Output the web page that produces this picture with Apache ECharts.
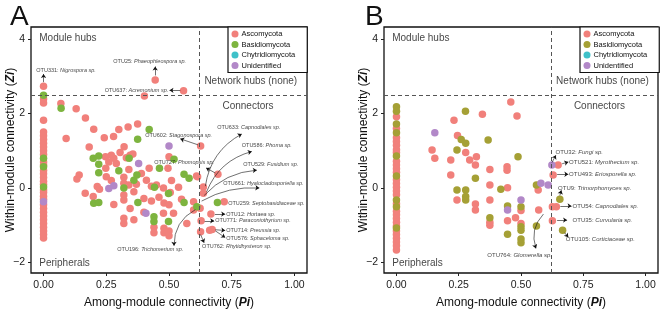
<!DOCTYPE html>
<html>
<head>
<meta charset="utf-8">
<script src="https://cdn.jsdelivr.net/npm/echarts@6/dist/echarts.min.js"></script>
<style>
  html, body { margin: 0; padding: 0; background: #fff; }
  #main { width: 660px; height: 310px; }
</style>
</head>
<body>
<div id="main"></div>
<script>
var FONT = 'Liberation Sans, Arial, sans-serif';

var phyla = ['Ascomycota', 'Basidiomycota', 'Chytridiomycota', 'Unidentified'];
var xTicks = [0, 0.25, 0.5, 0.75, 1];
var yTicks = [-2, 0, 2, 4];
var piCut = 0.62, ziCut = 2.5;

var cAsco = '#F1807B', cBasA = '#7DB43F', cBasB = '#A5A035', cChy = '#3FC1C9', cUnid = '#B288C8';

// ---- panel A ----
var aAscoCol = [2.73, 2.39, 2.28, 1.82, 1.50, 1.40, 1.30, 1.20, 1.10, 1.00, 0.90, 0.70, 0.62, 0.47, 0.38, 0.28, 0.18, 0.10,
  -0.05, -0.12, -0.22, -0.30, -0.45, -0.55, -0.65, -0.75, -0.85, -0.95, -1.05, -1.15, -1.25, -1.34];
var aBasCol = [2.49, 0.80, 0.57, 0.03];
var aUnidCol = [-0.37];
var aAsco = [[0.445,2.90],[0.558,2.61],[0.402,2.47],[0.069,2.27],[0.13,2.13],[0.167,1.88],[0.09,1.33],[0.20,1.58],
  [0.242,1.35],[0.279,1.38],[0.30,1.57],[0.337,1.64],[0.375,1.72],[0.182,1.10],[0.321,1.11],[0.356,0.91],[0.626,1.13],
  [0.50,0.84],[0.247,0.84],[0.27,0.88],[0.28,0.80],[0.29,0.66],[0.248,0.53],[0.33,0.81],[0.345,0.88],[0.142,0.35],
  [0.133,0.24],[0.32,0.29],[0.32,0.13],[0.34,0.08],[0.214,0.04],[0.166,-0.14],[0.198,-0.23],[0.28,-0.44],[0.32,-0.19],
  [0.32,-0.32],[0.32,-0.81],[0.32,-0.95],[0.345,-0.55],[0.421,0.53],[0.496,0.53],[0.41,0.21],[0.61,0.32],[0.695,0.37],
  [0.478,0.0],[0.505,-0.12],[0.538,0.02],[0.40,-0.28],[0.43,-0.35],[0.46,-0.25],[0.48,-0.40],[0.50,-0.45],[0.478,-0.68],
  [0.518,-0.68],[0.48,-1.08],[0.48,-1.2],[0.50,-1.15],[0.50,-1.28],[0.44,-1.05],[0.44,-1.2],[0.571,-0.95],[0.598,-0.59],
  [0.614,0.30],[0.637,0.03],[0.637,-0.14],[0.598,-0.37],[0.624,-0.54],[0.72,-0.37],[0.667,-0.70],[0.628,-0.88],
  [0.662,-1.13],[0.672,-1.11],[0.626,-1.17],[0.39,0.39],[0.37,0.10],[0.43,0.05],[0.36,-0.10],[0.27,0.20],[0.25,0.30],
  [0.55,-0.30],[0.40,-0.65],[0.36,-0.85],[0.223,-0.03],[0.34,0.5],[0.305,0.95],[0.26,0.7],[0.51,0.2],[0.45,0.08]];
var aBas = [[0.07,2.14],[0.421,1.57],[0.375,1.31],[0.52,0.77],[0.22,0.86],[0.198,0.80],[0.341,0.80],[0.22,0.64],
  [0.22,0.41],[0.30,0.46],[0.32,0.0],[0.20,-0.41],[0.22,-0.39],[0.462,0.53],[0.56,0.37],[0.58,0.26],[0.36,0.21],
  [0.372,0.35],[0.442,0.02],[0.376,-0.39],[0.56,-0.39],[0.611,-0.5],[0.44,-0.77],[0.44,-0.9],[0.498,-0.9],[0.693,-0.39],
  [0.498,-0.15]];
var aUnid = [[0.50,1.13],[0.379,0.66],[0.26,-0.01],[0.28,0.06],[0.408,-0.68]];

// [Pi, Zi, OTU, taxon, side]
var aNotes = [
  [-0.029, 3.16, 'OTU331', 'Nigrospora sp.'],
  [0.278, 3.40, 'OTU25', 'Phaeophleospora sp.'],
  [0.497, 2.62, 'OTU637', 'Acremonium sp.', 'left'],
  [0.405, 1.42, 'OTU602', 'Stagonospora sp.'],
  [0.441, 0.68, 'OTU727', 'Phomopsis sp.'],
  [0.692, 1.62, 'OTU633', 'Capnodiales sp.'],
  [0.79, 1.13, 'OTU586', 'Phoma sp.'],
  [0.796, 0.62, 'OTU529', 'Fusidium sp.'],
  [0.716, 0.11, 'OTU661', 'Hyalocladosporiella sp.'],
  [0.736, -0.41, 'OTU259', 'Septobasidiaceae sp.'],
  [0.728, -0.70, 'OTU12', 'Hortaea sp.'],
  [0.684, -0.88, 'OTU771', 'Paraconiothyrium sp.'],
  [0.728, -1.13, 'OTU714', 'Preussia sp.'],
  [0.728, -1.35, 'OTU576', 'Sphaceloma sp.'],
  [0.632, -1.57, 'OTU762', 'Rhytidhysteron sp.'],
  [0.294, -1.64, 'OTU196', 'Trichomerium sp.']
];
// [x1, y1, x2, y2, curveness]
var aArrows = [
  [0, 2.84, 0, 3.06, 0], [0.445, 3.02, 0.445, 3.26, 0], [0.545, 2.62, 0.502, 2.62, 0],
  [0.615, 1.16, 0.545, 1.32, 0], [0.685, 0.40, 0.648, 0.54, 0],
  [0.645, 0.05, 0.79, 1.45, 0.25], [0.65, -0.1, 0.83, 0.98, 0.25], [0.64, -0.2, 0.85, 0.48, 0.2],
  [0.63, -0.35, 0.86, 0.0, 0.15],
  [0.683, -0.70, 0.724, -0.70, 0], [0.642, -0.88, 0.68, -0.88, 0], [0.685, -1.12, 0.724, -1.14, 0],
  [0.685, -1.15, 0.724, -1.33, 0], [0.626, -1.25, 0.64, -1.47, 0], [0.605, -0.58, 0.52, -1.55, -0.3]
];

// ---- panel B ----
var bAscoCol = [1.91, 1.60, 1.35, 1.25, 1.15, 1.03, 0.95, 0.72, 0.62, 0.52, 0.42, 0.22, 0.12, 0.02, -0.08, -0.18, -0.42,
  -0.62, -0.72, -0.82, -0.92, -1.02, -1.15, -1.25, -1.35, -1.45, -1.55, -1.66];
var bBasCol = [2.18, 2.06, 1.72, 1.48, 0.86, 0.32, -0.32, -0.5, -1.07];
var bAsco = [[0.459,2.31],[0.345,1.98],[0.484,1.93],[0.231,1.82],[0.245,1.41],[0.143,1.02],[0.278,0.95],[0.321,0.84],
  [0.154,0.80],[0.218,0.75],[0.294,0.75],[0.317,0.62],[0.375,0.50],[0.444,0.57],[0.444,0.48],[0.218,0.35],[0.375,0.08],
  [0.446,0.01],[0.243,-0.32],[0.317,-0.43],[0.317,-0.59],[0.375,-0.32],[0.569,-0.05],[0.446,-0.88],[0.571,-0.59],
  [0.478,-0.80],[0.5,-0.95],[0.375,-0.92],[0.375,-1.0],[0.5,-0.6],[0.649,0.62],[0.629,0.35],[0.626,-0.50],[0.642,-0.50],
  [0.626,-0.88]];
var bBas = [[0.277,2.06],[0.26,1.30],[0.278,1.20],[0.368,1.29],[0.243,1.02],[0.488,0.84],[0.317,0.26],[0.419,-0.03],
  [0.243,-0.05],[0.278,-0.05],[0.278,-0.23],[0.278,-0.32],[0.562,0.08],[0.446,-0.48],[0.5,-0.5],[0.5,-1.04],[0.5,-1.13],
  [0.5,-1.37],[0.5,-1.47],[0.446,-1.24],[0.562,-1.02],[0.375,-0.80],[0.656,-0.30],[0.667,-1.13]];
var bUnid = [[0.154,1.48],[0.58,0.13],[0.609,0.08],[0.446,-0.59],[0.5,-0.32],[0.624,0.62]];

var bNotes = [
  [0.639, 0.96, 'OTU32', 'Fungi sp.'],
  [0.693, 0.70, 'OTU521', 'Myrothecium sp.'],
  [0.693, 0.37, 'OTU493', 'Eriosporella sp.'],
  [0.649, -0.01, 'OTU9', 'Trimorphomyces sp.'],
  [0.707, -0.48, 'OTU54', 'Capnodiales sp.'],
  [0.707, -0.86, 'OTU35', 'Curvularia sp.'],
  [0.68, -1.38, 'OTU105', 'Corticiaceae sp.'],
  [0.365, -1.81, 'OTU764', 'Glomerella sp.']
];
var bArrows = [
  [0.624, 0.68, 0.64, 0.88, 0], [0.665, 0.65, 0.69, 0.70, 0], [0.645, 0.37, 0.69, 0.37, 0],
  [0.656, -0.2, 0.662, -0.06, 0], [0.658, -0.48, 0.703, -0.48, 0], [0.645, -0.86, 0.685, -0.86, 0],
  [0.675, -1.2, 0.69, -1.32, 0], [0.59, -0.7, 0.56, -1.62, -0.3]
];

// quadrant captions [Pi, Zi, text, position]
var quadText = [
  [-0.017, 4.02, 'Module hubs', 'right'],
  [0.641, 2.87, 'Network hubs (none)', 'right'],
  [0.815, 2.2, 'Connectors', 'inside'],
  [-0.017, -2.01, 'Peripherals', 'right']
];

function col(vals) { return vals.map(function (z) { return [0, z]; }); }

function pointSeries(i, name, data, color) {
  return { type: 'scatter', name: name, xAxisIndex: i, yAxisIndex: i, data: data, symbolSize: 7.5,
    itemStyle: { color: color, opacity: 1 }, silent: true, z: 3 };
}

function noteSeries(i, notes, size) {
  return { type: 'scatter', xAxisIndex: i, yAxisIndex: i, symbolSize: 0, silent: true, z: 6,
    data: notes.map(function (n) {
      return { value: [n[0], n[1]], label: { show: true, position: n[4] || 'right', distance: 0,
        formatter: '{a|' + n[2] + ': }{i|' + n[3] + '}',
        rich: { a: { fontSize: size, fontFamily: FONT, color: '#111' },
                i: { fontSize: size, fontFamily: FONT, fontStyle: 'italic', color: '#111' } } } };
    }) };
}

function arrowSeries(i, arrows) {
  return { type: 'lines', coordinateSystem: 'cartesian2d', xAxisIndex: i, yAxisIndex: i, silent: true, z: 5,
    symbol: ['none', 'arrow'], symbolSize: 4,
    lineStyle: { color: '#111', width: 0.6, opacity: 1 },
    data: arrows.map(function (a) {
      return { coords: [[a[0], a[1]], [a[2], a[3]]], lineStyle: { curveness: a[4] } };
    }) };
}

function quadSeries(i) {
  return { type: 'scatter', xAxisIndex: i, yAxisIndex: i, symbolSize: 0, silent: true, z: 6,
    data: quadText.map(function (q) {
      return { value: [q[0], q[1]], label: { show: true, position: q[3], distance: 0, formatter: q[2],
        fontSize: 10, fontFamily: FONT, color: '#111' } };
    }),
    markLine: { silent: true, symbol: 'none', label: { show: false },
      lineStyle: { color: '#555', width: 1, type: [4, 3] },
      data: [{ xAxis: piCut }, { yAxis: ziCut }] } };
}

function xAxisOf(i) {
  return { type: 'value', gridIndex: i, min: -0.05, max: 1.05, splitLine: { show: false },
    axisLine: { show: false, onZero: false },
    axisTick: { show: true, length: 3, customValues: xTicks, lineStyle: { color: '#222' } },
    axisLabel: { customValues: xTicks, margin: 7, fontSize: 10.5, fontFamily: FONT, color: '#222',
      formatter: function (v) { return v.toFixed(2); } },
    name: 'Among-module connectivity ({b|Pi})', nameLocation: 'middle', nameGap: 24, nameMoveOverlap: false,
    nameTextStyle: { fontSize: 12, fontFamily: FONT, color: '#111',
      rich: { b: { fontSize: 12, fontFamily: FONT, fontWeight: 'bold', fontStyle: 'italic', color: '#111' } } } };
}

function yAxisOf(i) {
  return { type: 'value', gridIndex: i, min: -2.28, max: 4.32, splitLine: { show: false },
    axisLine: { show: false, onZero: false },
    axisTick: { show: true, length: 3, customValues: yTicks, lineStyle: { color: '#222' } },
    axisLabel: { customValues: yTicks, margin: 6, fontSize: 10.5, fontFamily: FONT, color: '#222',
      formatter: function (v) { return v < 0 ? '\u2212' + Math.abs(v) : String(v); } },
    name: 'Within-module connectivity ({b|Zi})', nameLocation: 'middle', nameGap: 14, nameMoveOverlap: false,
    nameTextStyle: { fontSize: 12, fontFamily: FONT, color: '#111',
      rich: { b: { fontSize: 12, fontFamily: FONT, fontWeight: 'bold', fontStyle: 'italic', color: '#111' } } } };
}

function legendOf(left, basColor) {
  return { left: left, top: 27, orient: 'vertical', icon: 'circle', itemWidth: 7, itemHeight: 7, itemGap: 2.5,
    padding: [3, 12, 3, 3.5], backgroundColor: '#fff', borderColor: '#111', borderWidth: 1.2,
    selectedMode: false, textStyle: { fontSize: 7.5, fontFamily: FONT, color: '#111', padding: [0, 0, 0, -2] },
    data: [
      { name: 'Ascomycota', itemStyle: { color: cAsco } },
      { name: 'Basidiomycota', itemStyle: { color: basColor } },
      { name: 'Chytridiomycota', itemStyle: { color: cChy } },
      { name: 'Unidentified', itemStyle: { color: cUnid } }
    ] };
}

var series = [
  pointSeries(0, phyla[0], col(aAscoCol).concat(aAsco), cAsco),
  pointSeries(0, phyla[1], col(aBasCol).concat(aBas), cBasA),
  pointSeries(0, phyla[2], [], cChy),
  pointSeries(0, phyla[3], col(aUnidCol).concat(aUnid), cUnid),
  quadSeries(0), arrowSeries(0, aArrows), noteSeries(0, aNotes, 5.5),
  pointSeries(1, phyla[0], col(bAscoCol).concat(bAsco), cAsco),
  pointSeries(1, phyla[1], col(bBasCol).concat(bBas), cBasB),
  pointSeries(1, phyla[2], [], cChy),
  pointSeries(1, phyla[3], bUnid, cUnid),
  quadSeries(1), arrowSeries(1, bArrows), noteSeries(1, bNotes, 6)
];

var chart = echarts.init(document.getElementById('main'), null, { renderer: 'canvas' });
chart.setOption({
  animation: false,
  backgroundColor: '#fff',
  title: [
    { text: 'A', left: 5, top: -2, textStyle: { fontSize: 28, fontWeight: 'normal', fontFamily: FONT, color: '#111' } },
    { text: 'B', left: 360, top: -2, textStyle: { fontSize: 28, fontWeight: 'normal', fontFamily: FONT, color: '#111' } }
  ],
  grid: [
    { left: 31, top: 27, width: 276, height: 246, show: true, borderColor: '#111', borderWidth: 1.3,
      backgroundColor: 'transparent', outerBoundsMode: 'none', containLabel: false },
    { left: 384, top: 27, width: 274, height: 246, show: true, borderColor: '#111', borderWidth: 1.3,
      backgroundColor: 'transparent', outerBoundsMode: 'none', containLabel: false }
  ],
  legend: [legendOf(228, cBasA), legendOf(580, cBasB)],
  xAxis: [xAxisOf(0), xAxisOf(1)],
  yAxis: [yAxisOf(0), yAxisOf(1)],
  series: series
});
</script>
</body>
</html>
